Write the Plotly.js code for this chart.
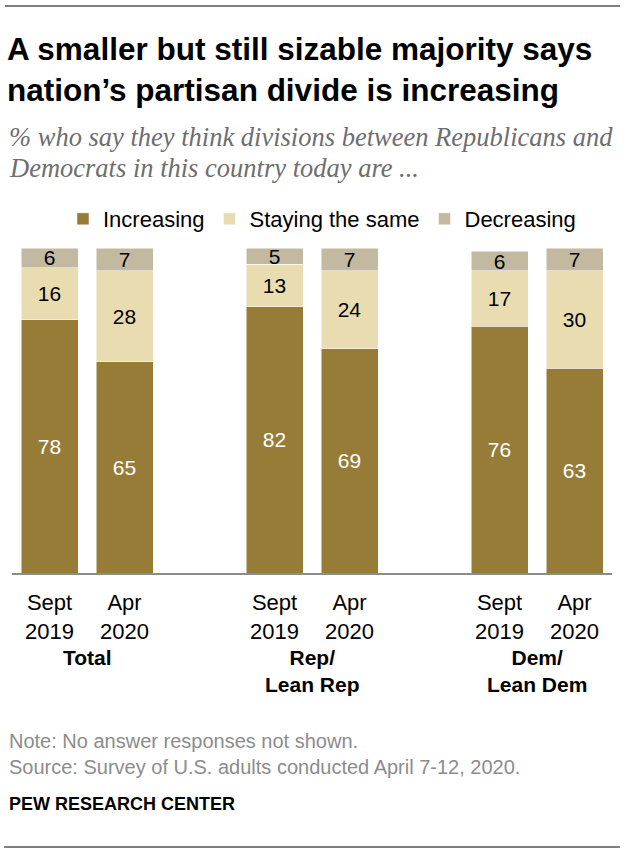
<!DOCTYPE html>
<html>
<head>
<meta charset="utf-8">
<script src="https://cdn.plot.ly/plotly-3.0.1.min.js"></script>
<style>
  html, body { margin: 0; padding: 0; background: #fff; }
  #chart { width: 626px; height: 854px; }
</style>
</head>
<body>
<div id="chart"></div>
<script>
// groups and survey waves
const groups = ['Total', 'Rep/<br>Lean Rep', 'Dem/<br>Lean Dem'];
const waves = ['Sept<br>2019', 'Apr<br>2020'];

// % saying divisions are ... (Total Sept, Total Apr, Rep Sept, Rep Apr, Dem Sept, Dem Apr)
const increasing = [78, 65, 82, 69, 76, 63];
const stayingSame = [16, 28, 13, 24, 17, 30];
const decreasing = [6, 7, 5, 7, 6, 7];

const W = 626, H = 854;
const margin = {l: 12, r: 14, t: 248, b: 281, pad: 0};
const plotW = W - margin.l - margin.r;
const plotH = H - margin.t - margin.b;
// page pixels -> paper coords
const px = x => (x - margin.l) / plotW;
const py = y => (H - margin.b - y) / plotH;

// one slot per wave, an empty slot between groups
const xPos = [];
const tickText = [];
groups.forEach((g, gi) => waves.forEach((w, wi) => {
    xPos.push(gi * (waves.length + 1) + wi);
    tickText.push(w);
}));
const groupCenters = groups.map((g, gi) => gi * (waves.length + 1) + (waves.length - 1) / 2);

const sans = '"Liberation Sans", Arial, sans-serif';
const serif = '"Liberation Serif", Georgia, serif';

function segment(name, vals, color, textColor) {
    return {
        type: 'bar',
        name: name,
        x: xPos,
        y: vals,
        width: 0.76,
        marker: {color: color, line: {color: '#ffffff', width: 0.5}},
        text: vals.map(String),
        textposition: 'inside',
        insidetextanchor: 'middle',
        textangle: 0,
        constraintext: 'none',
        textfont: {family: sans, size: 21, color: textColor},
        hovertemplate: name + ': %{y}<extra></extra>',
    };
}

const traces = [
    segment('Increasing', increasing, '#977c38', '#ffffff'),
    segment('Staying the same', stayingSame, '#e9dcb1', '#000000'),
    segment('Decreasing', decreasing, '#c3b9a0', '#000000'),
];

const annotations = groups.map((g, gi) => ({
    text: '<b>' + g + '</b>',
    x: groupCenters[gi], xref: 'x',
    y: py(644), yref: 'paper',
    xanchor: 'center', yanchor: 'top',
    showarrow: false,
    font: {family: sans, size: 21, color: '#000'},
}));

const leftText = (text, y, font) => ({
    text: text, x: px(7), xref: 'paper', y: py(y), yref: 'paper',
    xanchor: 'left', yanchor: 'middle', showarrow: false, font: font,
});

annotations.push(
    leftText('<i>% who say they think divisions between Republicans and</i>', 137,
        {family: serif, size: 26.5, color: '#6e6e6e'}),
    leftText('<i>Democrats in this country today are ...</i>', 168,
        {family: serif, size: 26.5, color: '#6e6e6e'}),
    leftText('Note: No answer responses not shown.', 741,
        {family: sans, size: 20, color: '#8c8c8c'}),
    leftText('Source: Survey of U.S. adults conducted April 7-12, 2020.', 767,
        {family: sans, size: 20, color: '#8c8c8c'}),
    leftText('<b>PEW RESEARCH CENTER</b>', 804,
        {family: sans, size: 18, color: '#000'})
);

const layout = {
    width: W,
    height: H,
    margin: margin,
    paper_bgcolor: '#ffffff',
    plot_bgcolor: '#ffffff',
    barmode: 'stack',
    showlegend: true,
    title: {
        text: '<b>A smaller but still sizable majority says<br>nation’s partisan divide is increasing</b>',
        font: {family: sans, size: 31.5, color: '#000'},
        xref: 'container', yref: 'container',
        x: 7 / W, xanchor: 'left',
        y: 1 - 60 / H, yanchor: 'middle',
    },
    legend: {
        orientation: 'h',
        traceorder: 'normal',
        x: px(63), xanchor: 'left',
        y: py(219), yanchor: 'middle',
        font: {family: sans, size: 22, color: '#000'},
        bgcolor: 'rgba(0,0,0,0)',
    },
    xaxis: {
        range: [-0.5, 7.5],
        tickvals: xPos,
        ticktext: tickText,
        ticks: '',
        showgrid: false,
        zeroline: false,
        showline: true,
        linecolor: '#8c8c8c',
        linewidth: 2,
        tickfont: {family: sans, size: 22, color: '#000'},
        ticklabelstandoff: 9,
        fixedrange: true,
    },
    yaxis: {
        range: [0, 100],
        visible: false,
        fixedrange: true,
    },
    shapes: [
        {type: 'line', xref: 'paper', yref: 'paper', x0: px(5), x1: px(620), y0: py(6), y1: py(6),
         line: {color: '#000', width: 1}},
        {type: 'line', xref: 'paper', yref: 'paper', x0: px(4), x1: px(620), y0: py(847), y1: py(847),
         line: {color: '#000', width: 1}},
    ],
    annotations: annotations,
};

Plotly.newPlot('chart', traces, layout, {displayModeBar: false, staticPlot: true});
</script>
</body>
</html>
